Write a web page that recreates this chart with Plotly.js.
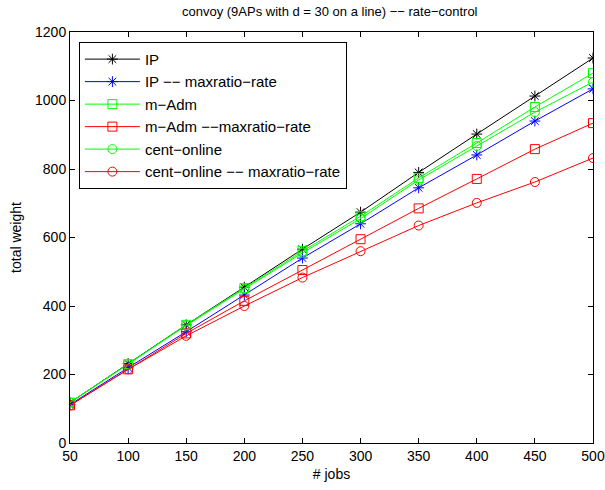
<!DOCTYPE html>
<html><head><meta charset="utf-8">
<script src="https://cdn.plot.ly/plotly-3.0.1.min.js"></script>
<style>html,body{margin:0;padding:0;background:#fff}#chart{width:605px;height:490px}</style>
</head><body><div id="chart"></div>
<script>
const jobs = [50,100,150,200,250,300,350,400,450,500];
const ipVals = [118,232,345,455,566,674,790,902,1013,1124];
const ipMaxratio = [112,220,325,432,540,640,745,841,940,1034];
const mAdm = [118,230,345,452,560,662,774,876,981,1080];
const mAdmMaxratio = [110,215,320,415,505,595,685,771,858,934];
const centOnline = [118,230,343,450,555,655,768,867,966,1054];
const centOnlineMaxratio = [110,215,313,400,483,560,635,701,762,832];
const names = ['IP','IP \u2212\u2212 maxratio\u2212rate','m\u2212Adm','m\u2212Adm \u2212\u2212maxratio\u2212rate','cent\u2212online','cent\u2212online \u2212\u2212 maxratio\u2212rate'];

function tr(y, name, color, sym){
  return {x: jobs, y: y, name: name, type:'scatter', mode:'lines+markers',
    line:{color:color, width:1},
    marker:{symbol:sym, size:9, color:color, line:{color:color, width:1}}};
}
const data = [
  tr(ipVals, names[0], '#000000', 'asterisk-open'),
  tr(ipMaxratio, names[1], '#0000ff', 'asterisk-open'),
  tr(mAdm, names[2], '#00ff00', 'square-open'),
  tr(mAdmMaxratio, names[3], '#ff0000', 'square-open'),
  tr(centOnline, names[4], '#00ff00', 'circle-open'),
  tr(centOnlineMaxratio, names[5], '#ff0000', 'circle-open')
];
const axisCommon = {showline:true, linecolor:'#000', linewidth:1, mirror:'ticks', ticks:'inside', ticklen:5, tickcolor:'#000', showgrid:false, zeroline:false, tickfont:{size:14, color:'#000'}};
const layout = {
  width:605, height:490,
  margin:{l:70, r:12, t:32, b:47},
  font:{family:'Liberation Sans, Arial, sans-serif', color:'#000'},
  title:{text:'convoy (9APs with d = 30 on a line) \u2212\u2212 rate\u2212control', font:{size:13}, x:0.545, xanchor:'center', y:0.985, yanchor:'top'},
  xaxis:Object.assign({}, axisCommon, {range:[50,500], tickvals:[50,100,150,200,250,300,350,400,450,500], title:{text:'# jobs', font:{size:14}, standoff:6}}),
  yaxis:Object.assign({}, axisCommon, {range:[0,1200], tickvals:[0,200,400,600,800,1000,1200], title:{text:'total weight', font:{size:14}, standoff:10}}),
  legend:{x:0.017, y:0.976, xanchor:'left', yanchor:'top', bordercolor:'#000', borderwidth:1, bgcolor:'#fff', font:{size:15}, tracegroupgap:0, itemwidth:55},
  showlegend:true,
  plot_bgcolor:'#fff', paper_bgcolor:'#fff'
};
Plotly.newPlot('chart', data, layout, {displayModeBar:false, staticPlot:true});
</script></body></html>
